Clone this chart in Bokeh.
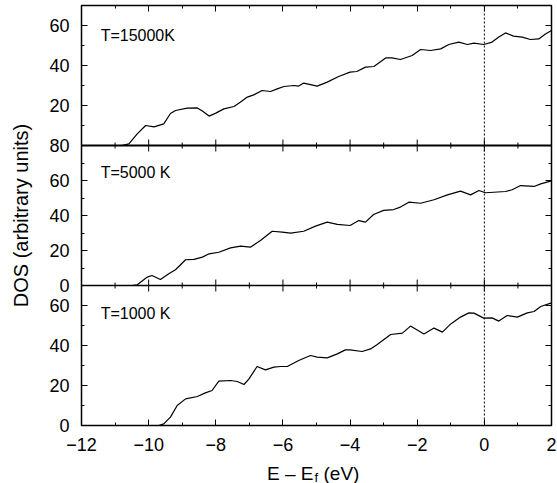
import numpy as np
from bokeh.plotting import figure
from bokeh.layouts import column
from bokeh.models import (Range1d, LinearAxis, FixedTicker, Span, Label,
                          CustomJSTickFormatter)
from bokeh.core.properties import value
from bokeh.embed import file_html
from bokeh.resources import INLINE

# ---------------- data ----------------
x_15000 = [-12, -10.8, -10.59, -10.34, -10.09, -9.84, -9.55, -9.35, -9.2, -8.85,
           -8.55, -8.4, -8.2, -8.0, -7.76, -7.46, -7.26, -7.06, -6.87, -6.62,
           -6.37, -6.17, -5.97, -5.68, -5.53, -5.38, -4.98, -4.68, -4.34, -4.0,
           -3.8, -3.54, -3.29, -2.94, -2.75, -2.5, -2.15, -1.9, -1.6, -1.3,
           -1.06, -0.76, -0.51, -0.31, -0.02, 0.23, 0.43, 0.63, 0.87, 1.13,
           1.37, 1.62, 1.82, 2.0]
dos_15000 = [0, 0, 0.8, 5.8, 10, 9.3, 10.8, 16, 17.5, 18.7,
             18.8, 17.2, 14.7, 16.2, 18.3, 19.5, 21.7, 24.2, 25.3, 27.5,
             27, 28.3, 29.5, 30, 29.7, 31.2, 29.7, 31.7, 34.5, 36.7,
             37, 39.2, 39.5, 43.8, 43.8, 43, 45, 48, 47.5, 48.3,
             50.5, 51.7, 50.5, 51.2, 50.5, 51.7, 54.2, 56.3, 54.7, 54.2,
             53, 53.3, 55.8, 57.5]

x_5000 = [-12, -10.5, -10.34, -10.04, -9.9, -9.65, -9.4, -9.2, -8.9, -8.65,
          -8.4, -8.2, -7.91, -7.56, -7.26, -6.97, -6.67, -6.32, -6.02, -5.77,
          -5.38, -5.03, -4.68, -4.38, -4.0, -3.74, -3.54, -3.3, -3.0, -2.7,
          -2.5, -2.25, -1.9, -1.5, -1.1, -0.71, -0.41, -0.16, 0.03, 0.28,
          0.63, 0.83, 1.08, 1.48, 1.68, 2.0]
dos_5000 = [0, 0, 0.4, 4.8, 5.7, 3.4, 6.7, 9, 14.7, 14.9,
            16.2, 18.1, 19, 21.5, 22.5, 21.9, 25.7, 31, 30.5, 29.9,
            31, 33.9, 36.2, 34.9, 34.3, 37.1, 36.2, 40.6, 42.9, 43.4,
            44.8, 47.6, 47, 49, 51.8, 53.9, 51.8, 54.3, 53, 53.3,
            53.7, 54.7, 57.1, 56.6, 58.1, 59.8]

x_1000 = [-12, -9.7, -9.55, -9.35, -9.15, -8.9, -8.55, -8.31, -8.11, -7.91,
          -7.56, -7.36, -7.16, -7.01, -6.77, -6.52, -6.27, -6.07, -5.87, -5.53,
          -5.18, -4.98, -4.68, -4.38, -4.14, -4.0, -3.64, -3.39, -3.19, -2.79,
          -2.44, -2.2, -2.0, -1.8, -1.5, -1.25, -1.0, -0.71, -0.46, -0.31,
          -0.02, 0.23, 0.43, 0.68, 0.98, 1.28, 1.48, 1.68, 2.0]
dos_1000 = [0, 0, 0.8, 4.2, 10, 13.3, 14.5, 16.3, 17.5, 22.2,
            22.5, 22, 20.5, 23.3, 29.5, 27.8, 29.2, 29.5, 29.5, 32.5,
            35, 34.2, 33.8, 35.8, 37.8, 37.8, 37, 38.3, 40.5, 45.5,
            46.2, 49.7, 47.8, 45.8, 48.7, 46.7, 50.8, 54.2, 56.3, 56.2,
            53.7, 53.8, 52.2, 55, 54.2, 56.3, 57, 59.5, 61.3]

panel_names = ["top", "mid", "bot"]
panel_labels = ["T=15000K", "T=5000 K", "T=1000 K"]
panel_limits = [(0, 70), (0, 80), (0, 70)]
panel_major = [[20, 40, 60], [0, 20, 40, 60, 80], [0, 20, 40, 60]]
panel_minor = [[10, 30, 50], [10, 30, 50, 70], [10, 30, 50]]

x_ticks = [-12, -10, -8, -6, -4, -2, 0, 2]
x_minor = [-11, -9, -7, -5, -3, -1, 1]
x_tick_labels = ["\u221212", "\u221210", "\u22128", "\u22126", "\u22124", "\u22122", "0", "2"]
x_title = ["E \u2013 E", "f", "(eV)"]

FONT = "Liberation Sans"
SLOT = 70.0                     # base units per panel
N = len(panel_names)

def slot_of(i):                 # 0 = bottom slot
    return N - 1 - i

def to_base(v, i):
    lo, hi = panel_limits[i]
    return slot_of(i) * SLOT + (v - lo) * SLOT / (hi - lo)

x_range = Range1d(-12, 2)
p = figure(width=557, height=455, x_range=x_range, y_range=Range1d(0, N * SLOT),
           output_backend="svg", toolbar_location=None,
           min_border_left=81, min_border_right=6, min_border_top=5, min_border_bottom=30)
p.background_fill_color = "white"
p.border_fill_color = "white"
p.outline_line_color = "black"
p.outline_line_width = 1.5
p.xgrid.visible = False
p.ygrid.visible = False

# one y range per panel, mapped onto its third of the frame
for i, name in enumerate(panel_names):
    lo, hi = panel_limits[i]
    span = hi - lo
    s = slot_of(i)
    p.extra_y_ranges[name] = Range1d(lo - s * span, hi + (N - 1 - s) * span)

series = [(x_15000, dos_15000), (x_5000, dos_5000), (x_1000, dos_1000)]
for i, (xs, ys) in enumerate(series):
    p.line(xs, ys, y_range_name=panel_names[i], line_color="black", line_width=1.2)

# dotted Fermi level
p.add_layout(Span(location=0, dimension="height", line_color="black",
                  line_width=1, line_dash="2 2"))

# panel separators
for i in range(1, N):
    y_b = to_base(panel_limits[i][1], i)
    p.add_layout(Span(location=y_b, dimension="width", line_color="black",
                      line_width=2 if i == 1 else 1.5))

# ticks on internal panel boundaries (inward for both neighbouring panels)
inner_major = [t for t in x_ticks if -12 < t < 2]
for i in range(1, N):
    y_b = to_base(panel_limits[i][1], i)
    p.scatter(inner_major, [y_b] * len(inner_major), marker="dash", angle=np.pi / 2,
              size=12, line_color="black", line_width=1)
    p.scatter(x_minor, [y_b] * len(x_minor), marker="dash", angle=np.pi / 2,
              size=6, line_color="black", line_width=1)

# y ticks of all panels on the shared left axis
y_major_pos, y_minor_pos, y_over = [], [], {}
for i in range(N):
    for v in panel_major[i]:
        b = to_base(v, i)
        y_major_pos.append(b)
        y_over[b] = str(v)
    for v in panel_minor[i]:
        y_minor_pos.append(to_base(v, i))
y_ticker = FixedTicker(ticks=y_major_pos, minor_ticks=y_minor_pos)
x_ticker = FixedTicker(ticks=x_ticks, minor_ticks=x_minor)

def style_axis(ax):
    ax.axis_line_color = None
    ax.major_tick_in = 6
    ax.major_tick_out = 0
    ax.minor_tick_in = 3
    ax.minor_tick_out = 0
    ax.major_tick_line_color = "black"
    ax.minor_tick_line_color = "black"
    ax.major_tick_line_width = 1
    ax.minor_tick_line_width = 1
    ax.major_label_text_font = FONT
    ax.major_label_text_font_size = "18px"
    ax.major_label_text_color = "black"

yl = p.yaxis[0]
yl.ticker = y_ticker
yl.major_label_overrides = y_over
style_axis(yl)
yl.major_label_standoff = 12
yl.axis_label = "DOS (arbitrary units)"
yl.axis_label_text_font = FONT
yl.axis_label_text_font_size = "20px"
yl.axis_label_text_font_style = "normal"
yl.axis_label_text_color = "black"
yl.axis_label_standoff = 14

xb = p.xaxis[0]
xb.ticker = x_ticker
xb.major_label_overrides = dict(zip(x_ticks, x_tick_labels))
style_axis(xb)
xb.major_label_standoff = 12

ya = LinearAxis(ticker=y_ticker, formatter=CustomJSTickFormatter(code="return ''"))
style_axis(ya)
ya.major_label_text_font_size = "0px"
ya.major_label_standoff = 0
p.add_layout(ya, "right")
xa = LinearAxis(ticker=x_ticker, formatter=CustomJSTickFormatter(code="return ''"))
style_axis(xa)
xa.major_label_text_font_size = "0px"
xa.major_label_standoff = 0
p.add_layout(xa, "above")

# panel temperature labels
label_y = [55, 64.5, 56]
for i in range(N):
    p.add_layout(Label(x=-11.43, y=label_y[i], y_range_name=panel_names[i],
                       text=panel_labels[i], text_font=FONT, text_font_size="16px",
                       text_color="black", text_baseline="alphabetic", text_align="left"))

# x axis title (with subscript f) in a thin strip below, sharing the x scale
q = figure(width=557, height=28, x_range=x_range, y_range=Range1d(0, 28),
           output_backend="svg", toolbar_location=None,
           x_axis_location=None, y_axis_location=None,
           min_border_left=81, min_border_right=6, min_border_top=0, min_border_bottom=0)
q.outline_line_color = None
q.xgrid.visible = False
q.ygrid.visible = False
q.background_fill_color = "white"
q.border_fill_color = "white"

xc = -5.0
q.text(x=[xc], y=[10], text=[x_title[0]], x_offset=-3, text_font=value(FONT),
       text_font_size="19px", text_align="right", text_baseline="alphabetic", text_color="black")
q.text(x=[xc], y=[6.5], text=[x_title[1]], x_offset=-2, text_font=value(FONT),
       text_font_size="13px", text_align="left", text_baseline="alphabetic", text_color="black")
q.text(x=[xc], y=[10], text=[x_title[2]], x_offset=7, text_font=value(FONT),
       text_font_size="19px", text_align="left", text_baseline="alphabetic", text_color="black")

layout = column(p, q, spacing=0)
open("out.html", "w").write(file_html(layout, INLINE))
